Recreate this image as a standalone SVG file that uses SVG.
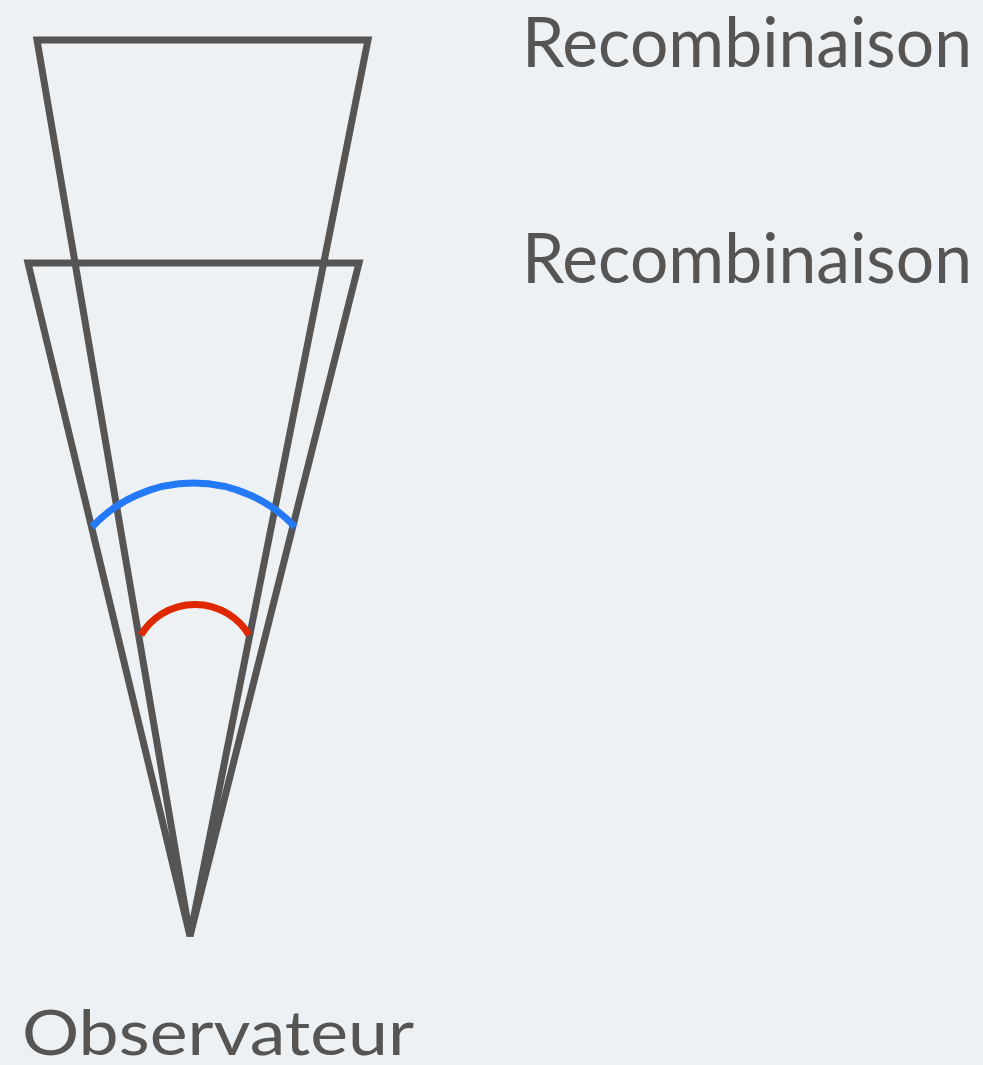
<svg xmlns="http://www.w3.org/2000/svg" width="983" height="1065" viewBox="0 0 983 1065">
<style>
.cone{fill:none;stroke:#555555;stroke-width:7;stroke-linejoin:miter;stroke-miterlimit:4}
.arc{fill:none;stroke-width:7;stroke-linecap:butt}
.lbl{font-family:Lato,"Open Sans","Liberation Sans",sans-serif;fill:#555555}
</style>
<rect width="983" height="1065" fill="#eef1f4"/>
<g id="cone-upper"><polygon class="cone" points="37,40 368,40 190,936"/></g>
<g id="cone-lower"><polygon class="cone" points="28,263 359,263 190,936"/></g>
<g id="arcs">
<path id="arc-blue" class="arc" stroke="#2479f7" d="M92,527 A139,139 0 0 1 295,527"/>
<path id="arc-red" class="arc" stroke="#e02800" d="M141,635 A63,63 0 0 1 249,635"/>
</g>
<g id="label-recomb-1"><text class="lbl" x="522" y="67" font-size="70" textLength="450" lengthAdjust="spacingAndGlyphs">Recombinaison</text></g>
<g id="label-recomb-2"><text class="lbl" x="522" y="283" font-size="70" textLength="450" lengthAdjust="spacingAndGlyphs">Recombinaison</text></g>
<g id="label-observateur"><text class="lbl" x="22" y="1055" font-size="62" textLength="392" lengthAdjust="spacingAndGlyphs">Observateur</text></g>
</svg>
